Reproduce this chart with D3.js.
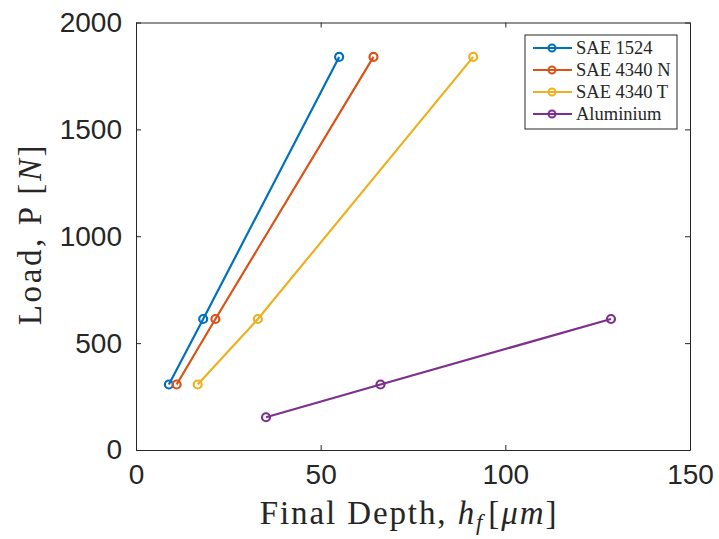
<!DOCTYPE html>
<meta charset="utf-8">
<style>
    body { margin: 0; background: #fff; }
    .tick text { font-family: "Liberation Sans", Arial, sans-serif; font-size: 28px; fill: #262626; }
    .serif { font-family: "Liberation Serif", "Times New Roman", serif; fill: #262626; }
</style>
<svg width="719" height="539"></svg>
<script src="https://d3js.org/d3.v7.min.js"></script>
<script>
    // loads in N (Brinell 187.5 / 62.5 / 31.25 / 15.625 kgf)
    var steelLoads = [306.5, 612.9, 1839];
    var aluLoads = [153.2, 306.5, 612.9];

    var sae1524 = [8.9, 18.2, 55.0];
    var sae4340N = [11.0, 21.5, 64.3];
    var sae4340T = [16.7, 33.0, 91.3];
    var aluminium = [35.2, 66.2, 128.6];

    var seriesNames = ["SAE 1524", "SAE 4340 N", "SAE 4340 T", "Aluminium"];
    var seriesColors = ["#0072BD", "#D95319", "#EDB120", "#7E2F8E"];
    var xTicks = [0, 50, 100, 150];
    var yTicks = [0, 500, 1000, 1500, 2000];

    var series = [
        { name: seriesNames[0], depth: sae1524, load: steelLoads },
        { name: seriesNames[1], depth: sae4340N, load: steelLoads },
        { name: seriesNames[2], depth: sae4340T, load: steelLoads },
        { name: seriesNames[3], depth: aluminium, load: aluLoads }
    ];

    var svg = d3.select("svg");
    var plotL = 136, plotR = 690, plotT = 22.5, plotB = 450;

    var x = d3.scaleLinear().domain([0, 150]).range([plotL, plotR]);
    var y = d3.scaleLinear().domain([0, 2000]).range([plotB, plotT]);

    // axes (MATLAB style box, ticks inside)
    function styleAxis(g) {
        g.select(".domain").attr("stroke", "#262626").attr("stroke-width", 1);
        g.selectAll(".tick line").attr("stroke", "#262626").attr("stroke-width", 1);
    }

    svg.append("g")
        .attr("transform", "translate(0," + plotB + ")")
        .call(d3.axisBottom(x).tickValues(xTicks).tickSize(-5).tickSizeOuter(0).tickPadding(14).tickFormat(d3.format("d")))
        .call(styleAxis)
        .selectAll(".tick text").attr("dy", "0.72em");

    svg.append("g")
        .attr("transform", "translate(" + plotL + ",0)")
        .call(d3.axisLeft(y).tickValues(yTicks).tickSize(-5).tickSizeOuter(0).tickPadding(14).tickFormat(d3.format("d")))
        .call(styleAxis);

    svg.append("g")
        .attr("transform", "translate(0," + plotT + ")")
        .call(d3.axisTop(x).tickValues(xTicks).tickSize(-5).tickSizeOuter(0).tickFormat(""))
        .call(styleAxis);

    svg.append("g")
        .attr("transform", "translate(" + plotR + ",0)")
        .call(d3.axisRight(y).tickValues(yTicks).tickSize(-5).tickSizeOuter(0).tickFormat(""))
        .call(styleAxis);

    // lines + markers
    var line = d3.line()
        .x(function (d) { return x(d[0]); })
        .y(function (d) { return y(d[1]); });

    series.forEach(function (s, i) {
        var pts = s.depth.map(function (d, j) { return [d, s.load[j]]; });
        var g = svg.append("g");
        g.append("path")
            .datum(pts)
            .attr("d", line)
            .attr("fill", "none")
            .attr("stroke", seriesColors[i])
            .attr("stroke-width", 2.2);
        g.selectAll("circle")
            .data(pts)
            .enter().append("circle")
            .attr("cx", function (d) { return x(d[0]); })
            .attr("cy", function (d) { return y(d[1]); })
            .attr("r", 4)
            .attr("fill", "none")
            .attr("stroke", seriesColors[i])
            .attr("stroke-width", 2.2);
    });

    // axis titles
    var xt = svg.append("text")
        .attr("class", "serif")
        .attr("x", 409)
        .attr("y", 524)
        .attr("text-anchor", "middle")
        .style("font-size", "33px")
        .style("letter-spacing", "1.9px");
    xt.append("tspan").text("Final Depth, ");
    xt.append("tspan").style("font-style", "italic").text("h");
    xt.append("tspan").style("font-style", "italic").style("font-size", "23px").attr("dy", 6).text("f");
    xt.append("tspan").attr("dy", -6).attr("dx", 4).text("[");
    xt.append("tspan").style("font-style", "italic").text("μm");
    xt.append("tspan").text("]");

    var yt = svg.append("text")
        .attr("class", "serif")
        .attr("transform", "translate(41,234) rotate(-90)")
        .attr("text-anchor", "middle")
        .style("font-size", "33px")
        .style("letter-spacing", "2.6px");
    yt.append("tspan").text("Load, P [");
    yt.append("tspan").style("font-style", "italic").text("N");
    yt.append("tspan").text("]");

    // legend
    var legend = svg.append("g");
    legend.append("rect")
        .attr("x", 525).attr("y", 35)
        .attr("width", 152).attr("height", 94)
        .attr("fill", "#fff")
        .attr("stroke", "#262626")
        .attr("stroke-width", 1);

    var item = legend.selectAll("g.item")
        .data(seriesNames)
        .enter().append("g")
        .attr("class", "item")
        .attr("transform", function (d, i) { return "translate(0," + (48 + i * 22) + ")"; });

    item.append("line")
        .attr("x1", 533).attr("x2", 572)
        .attr("stroke", function (d, i) { return seriesColors[i]; })
        .attr("stroke-width", 2.2);
    item.append("circle")
        .attr("cx", 552).attr("r", 3.5)
        .attr("fill", "none")
        .attr("stroke", function (d, i) { return seriesColors[i]; })
        .attr("stroke-width", 2);
    item.append("text")
        .attr("class", "serif")
        .attr("x", 576)
        .attr("dy", "0.35em")
        .style("font-size", "18.5px")
        .text(function (d) { return d; });
</script>
